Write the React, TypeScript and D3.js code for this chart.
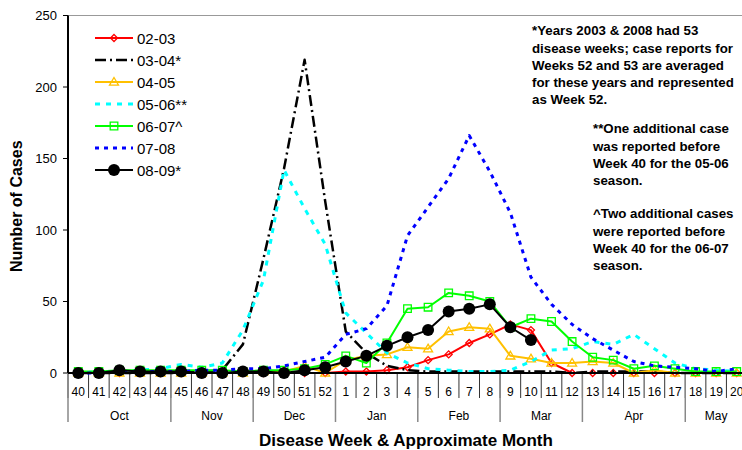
import * as d3 from "d3";

// disease weeks 40..52 then 1..20
const weeks = ["40","41","42","43","44","45","46","47","48","49","50","51","52",
  "1","2","3","4","5","6","7","8","9","10","11","12","13","14","15","16","17","18","19","20"];
const monthNames = ["Oct","Nov","Dec","Jan","Feb","Mar","Apr","May"];
const monthFirstWeek = ["40","45","49","1","5","9","13","18"];
const yTicks = [0, 50, 100, 150, 200, 250];

const s0203 = [0,0,0,0,0,0,0,0,0,0,0,0,0, 1,1,2,4,9,13,21,27,34,30,7,0,0,0,0,0,0,0,0,0];
const s0304 = [0,0,0,0,0,0,1,2,20,80,143,219,120, 29,14,5,2,1,1,1,1,1,1,1,0,1,1,1,1,0,0,0,0];
const s0405 = [0,0,0,0,0,0,0,0,0,1,1,5,0, 9,12,13,18,17,29,32,31,12,10,7,7,8,7,0,2,0,0,0,0];
const s0506 = [0,1,1,2,3,6,4,7,30,65,142,115,90, 42,28,14,7,3,2,1,1,2,8,16,17,22,20,27,17,7,3,2,1];
const s0607 = [1,1,2,2,2,2,2,2,1,2,2,3,6, 12,7,21,45,46,56,54,50,32,38,36,22,11,9,3,5,3,1,1,1];
const s0708 = [0,0,1,1,1,1,2,2,3,3,5,8,11, 27,31,47,96,116,136,166,141,112,67,48,34,24,16,8,5,4,3,1,3];
const s0809 = [0,0,2,1,1,1,0,0,1,1,0,2,4, 8,12,19,25,30,43,45,48,32,23,null,null,null,null,null,null,null,null,null,null];

const seriesNames = ["02-03","03-04*","04-05","05-06**","06-07^","07-08","08-09*"];
const seriesData = [s0203, s0304, s0405, s0506, s0607, s0708, s0809];

const styles = [
  { color: "#FF0000", width: 2, dash: null, marker: "diamond" },
  { color: "#000000", width: 2.5, dash: "11,4,2,4", marker: null },
  { color: "#FFC000", width: 2, dash: null, marker: "triangle" },
  { color: "#00FFFF", width: 3, dash: "5,6", marker: null },
  { color: "#00FF00", width: 2, dash: null, marker: "square" },
  { color: "#0000FF", width: 3, dash: "4,5", marker: null },
  { color: "#000000", width: 2, dash: null, marker: "circle" },
];

const font = "'Liberation Sans', Arial, sans-serif";

function markerPath(kind: string, cx: number, cy: number) {
  if (kind === "diamond") {
    const r = 3.5;
    return `M${cx},${cy - r}L${cx + r},${cy}L${cx},${cy + r}L${cx - r},${cy}Z`;
  }
  if (kind === "triangle") {
    const r = 4.5;
    return `M${cx},${cy - r}L${cx + r},${cy + r * 0.7}L${cx - r},${cy + r * 0.7}Z`;
  }
  if (kind === "square") {
    const r = 3.8;
    return `M${cx - r},${cy - r}h${2 * r}v${2 * r}h${-2 * r}Z`;
  }
  return "";
}

function Marker({ kind, color, cx, cy }: any) {
  if (kind === "circle") return <circle cx={cx} cy={cy} r={6} fill={color} />;
  return <path d={markerPath(kind, cx, cy)} fill="none" stroke={color} strokeWidth={1.3} />;
}

export default function App() {
  const W = 742, H = 450;
  const left = 68, right = 747, top = 15.5, bottom = 373;

  const x = d3.scaleBand<string>().domain(weeks).range([left, right]).padding(0);
  const y = d3.scaleLinear().domain([0, 250]).range([bottom, top]);
  const cx = (w: string) => (x(w) as number) + x.bandwidth() / 2;

  const line = d3
    .line<number | null>()
    .defined((d) => d !== null)
    .x((d, i) => cx(weeks[i]))
    .y((d) => y(d as number));

  const monthStarts = monthFirstWeek.map((w) => x(w) as number);
  const monthEnds = monthStarts.slice(1).concat([right]);

  return (
    <svg width={W} height={H} style={{ position: "absolute", left: 0, top: 0, background: "#fff" }} fontFamily={font}>
      {/* plot border top */}
      <line x1={left} x2={W} y1={top} y2={top} stroke="#999" strokeWidth={1} />

      {/* y axis */}
      <line x1={left} x2={left} y1={top} y2={bottom} stroke="#000" strokeWidth={2} />
      {yTicks.map((t) => (
        <g key={t}>
          <line x1={left - 5} x2={left} y1={y(t)} y2={y(t)} stroke="#000" />
          <text x={57} y={y(t) + 4.5} textAnchor="end" fontSize={13} fill="#000">{t}</text>
        </g>
      ))}
      <text transform={`translate(22,${(top + bottom) / 2 + 12}) rotate(-90)`} textAnchor="middle"
        fontSize={16} fontWeight="bold">Number of Cases</text>

      {/* x axis: week ticks and month separators */}
      {weeks.map((w) => (
        <line key={"t" + w} x1={x(w)} x2={x(w)} y1={bottom} y2={398} stroke="#333" strokeWidth={1} />
      ))}
      {monthStarts.map((s, i) => (
        <line key={"m" + i} x1={s} x2={s} y1={bottom} y2={422} stroke="#888" strokeWidth={1.5} />
      ))}
      {weeks.map((w) => (
        <text key={"l" + w} x={cx(w)} y={396} textAnchor="middle" fontSize={12}>{w}</text>
      ))}
      {monthNames.map((m, i) => (
        <text key={m} x={(monthStarts[i] + monthEnds[i]) / 2} y={420} textAnchor="middle" fontSize={12}>{m}</text>
      ))}
      <text x={406} y={446} textAnchor="middle" fontSize={17} fontWeight="bold">Disease Week &amp; Approximate Month</text>

      {/* series */}
      {seriesData.map((data, si) => {
        const st = styles[si];
        return (
          <g key={si}>
            <path d={line(data) || ""} fill="none" stroke={st.color} strokeWidth={st.width}
              strokeDasharray={st.dash || undefined} strokeLinejoin="round" />
            {st.marker && data.map((v, i) => v === null ? null : (
              <Marker key={i} kind={st.marker} color={st.color} cx={cx(weeks[i])} cy={y(v)} />
            ))}
          </g>
        );
      })}
      <line x1={left} x2={W} y1={bottom} y2={bottom} stroke="#000" strokeWidth={2} />

      {/* legend */}
      {seriesNames.map((n, i) => {
        const st = styles[i];
        const ly = 38 + i * 22;
        return (
          <g key={n}>
            <line x1={95} x2={133} y1={ly} y2={ly} stroke={st.color} strokeWidth={st.width}
              strokeDasharray={st.dash || undefined} />
            {st.marker && <Marker kind={st.marker} color={st.color} cx={114} cy={ly} />}
            <text x={137} y={ly + 5.5} fontSize={15}>{n}</text>
          </g>
        );
      })}

      {/* notes */}
      <g fontSize={13.3} fontWeight="bold">
        <text x={532} y={35}>*Years 2003 &amp; 2008 had 53</text>
        <text x={532} y={52.5}>disease weeks; case reports for</text>
        <text x={532} y={70}>Weeks 52 and 53 are averaged</text>
        <text x={532} y={87}>for these years and represented</text>
        <text x={532} y={104}>as Week 52.</text>
        <text x={593} y={133}>**One additional case</text>
        <text x={593} y={151}>was reported before</text>
        <text x={593} y={168}>Week 40 for the 05-06</text>
        <text x={593} y={185}>season.</text>
        <text x={593} y={218}>^Two additional cases</text>
        <text x={593} y={236}>were reported before</text>
        <text x={593} y={253}>Week 40 for the 06-07</text>
        <text x={593} y={270}>season.</text>
      </g>
    </svg>
  );
}
